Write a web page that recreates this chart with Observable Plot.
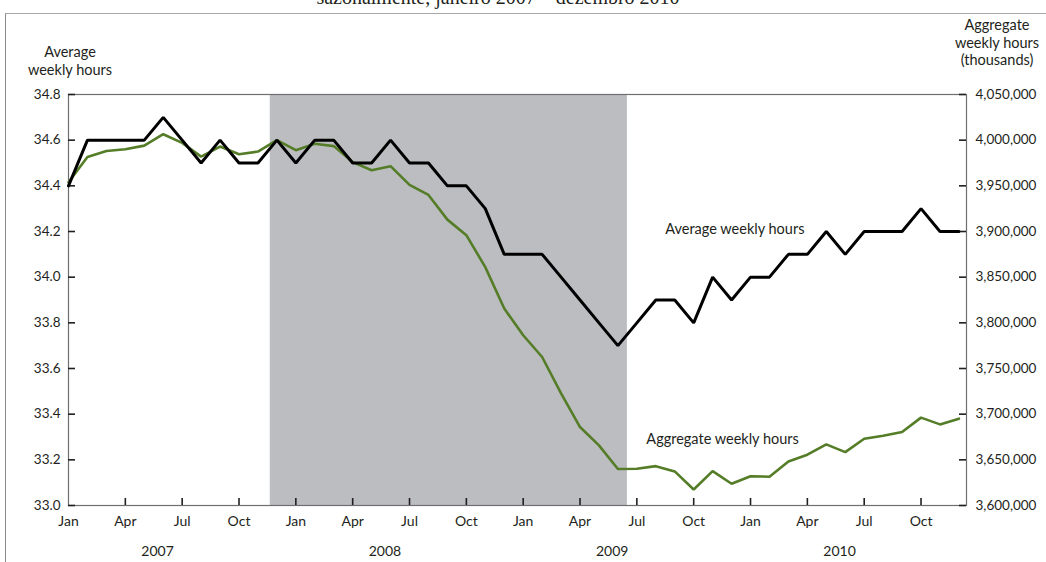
<!DOCTYPE html>
<html><head><meta charset="utf-8">
<script src="https://cdn.jsdelivr.net/npm/d3@7"></script>
<script src="https://cdn.jsdelivr.net/npm/@observablehq/plot@0.6"></script>
<style>
body{margin:0;background:#fff;}
#wrap{position:relative;width:1046px;height:562px;overflow:hidden;font-family:Lato,sans-serif;color:#231f20;}
#title{position:absolute;left:0;width:996px;text-align:center;top:-14px;font-family:"Liberation Serif",serif;font-size:20px;line-height:23px;white-space:nowrap;}
#border{position:absolute;left:5px;top:13px;width:1100px;height:600px;border-left:1px solid #8a8a8a;border-top:1px solid #a8a8a8;}
.ylab{position:absolute;font-size:14.5px;line-height:17.5px;text-align:center;white-space:nowrap;}
#chart{position:absolute;left:0;top:0;}
</style></head>
<body><div id="wrap">
<div id="title">sazonalmente, janeiro 2007 – dezembro 2010</div>
<div id="border"></div>
<div class="ylab" id="lyl" style="left:20px;width:100px;top:43px;">Average<br>weekly hours</div>
<div class="ylab" id="ryl" style="left:947px;width:100px;top:16px;">Aggregate<br>weekly hours<br>(thousands)</div>
<div id="chart"></div>
</div>
<script>
const monthNames = ["Jan","Feb","Mar","Apr","May","Jun","Jul","Aug","Sep","Oct","Nov","Dec"];
const years = [2007, 2008, 2009, 2010];
// Average weekly hours, Jan 2007 – Dec 2010
const avgHours = [
  34.4, 34.6, 34.6, 34.6, 34.6, 34.7, 34.6, 34.5, 34.6, 34.5, 34.5, 34.6,
  34.5, 34.6, 34.6, 34.5, 34.5, 34.6, 34.5, 34.5, 34.4, 34.4, 34.3, 34.1,
  34.1, 34.1, 34.0, 33.9, 33.8, 33.7, 33.8, 33.9, 33.9, 33.8, 34.0, 33.9,
  34.0, 34.0, 34.1, 34.1, 34.2, 34.1, 34.2, 34.2, 34.2, 34.3, 34.2, 34.2
];
// Aggregate weekly hours (thousands), Jan 2007 – Dec 2010
const aggHours = [
  3954000, 3981600, 3988200, 3990000, 3994000, 4006500, 3997000, 3982000, 3993000, 3984500, 3987500, 4000000,
  3989000, 3996000, 3993500, 3976000, 3967000, 3971500, 3951000, 3940000, 3913000, 3896000, 3861000, 3815700,
  3786400, 3762600, 3722800, 3685900, 3665800, 3640000, 3640200, 3643100, 3637300, 3617500, 3637600, 3623800,
  3632100, 3631500, 3648200, 3655600, 3666900, 3658400, 3673100, 3676400, 3680400, 3696200, 3688800, 3695100
];
const leftTicks = [33.0, 33.2, 33.4, 33.6, 33.8, 34.0, 34.2, 34.4, 34.6, 34.8];
const rightTicks = [3600000, 3650000, 3700000, 3750000, 3800000, 3850000, 3900000, 3950000, 4000000, 4050000];
const quarterTickMonths = ["Jan","Apr","Jul","Oct"];
const recession = {start: [2007, 12], end: [2009, 6]};
const seriesLabels = ["Average weekly hours", "Aggregate weekly hours"];

const idx = ([y, m]) => (y - 2007) * 12 + (m - 1);
const toLeft = v => 33 + (v - 3600000) / 50000 * 0.2;
const fromLeft = v => Math.round((3600000 + (v - 33) / 0.2 * 50000) / 1000) * 1000;

const rows = avgHours.map((v, i) => ({i, avg: v, agg: aggHours[i]}));
const qTicks = d3.range(0, 48).filter(i => quarterTickMonths.includes(monthNames[i % 12]));
const plotW = 1046 - 68 - 80, plotH = 562 - 94 - 57;

const chart = Plot.plot({
  width: 1046, height: 562,
  marginLeft: 68, marginRight: 80, marginTop: 94, marginBottom: 57,
  x: {domain: [0, 47.4]},
  y: {domain: [33, 34.8]},
  style: {fontFamily: "Lato, sans-serif", fontSize: "13.5px", color: "#231f20", background: "transparent"},
  marks: [
    Plot.rect([recession], {x1: d => idx(d.start) - 0.35, x2: d => idx(d.end) + 0.5, y1: 33, y2: 34.8, fill: "#bcbdc1"}),
    Plot.frame({stroke: "#6d6e71", strokeWidth: 1.2}),
    Plot.tickY(leftTicks, {y: d => d, insetRight: plotW - 7, stroke: "#231f20", strokeWidth: 1.6}),
    Plot.tickY(rightTicks.map(toLeft), {y: d => d, insetLeft: plotW - 7, stroke: "#231f20", strokeWidth: 1.6}),
    Plot.tickX(qTicks.filter(i => i > 0), {x: d => d, insetTop: plotH - 7, stroke: "#231f20", strokeWidth: 1.6}),
    Plot.axisY({anchor: "left", ticks: leftTicks, tickSize: 0, tickPadding: 8, tickFormat: d => d.toFixed(1), label: null}),
    Plot.axisY({anchor: "right", ticks: rightTicks.map(toLeft), tickSize: 0, tickPadding: 9, tickFormat: d => d3.format(",")(fromLeft(d)), label: null}),
    Plot.axisX({ticks: qTicks, tickSize: 0, tickPadding: 11, tickFormat: i => monthNames[i % 12], label: null, fontSize: 14}),
    Plot.text(years, {x: y => (y - 2007) * 12 + 4.7, y: 33, dy: 46, text: d => String(d), fill: "#231f20", fontSize: 14}),
    Plot.line(rows, {x: "i", y: d => toLeft(d.agg), stroke: "#557d28", strokeWidth: 2.6, strokeLinejoin: "miter"}),
    Plot.line(rows, {x: "i", y: "avg", stroke: "#000", strokeWidth: 3, strokeLinejoin: "miter"}),
    Plot.text([seriesLabels[0]], {x: 31.5, y: 34.21, text: d => d, textAnchor: "start", fill: "#231f20", fontSize: 14.5}),
    Plot.text([seriesLabels[1]], {x: 30.5, y: 33.29, text: d => d, textAnchor: "start", fill: "#231f20", fontSize: 14.5})
  ]
});
document.getElementById("chart").appendChild(chart);
</script>
</body></html>
